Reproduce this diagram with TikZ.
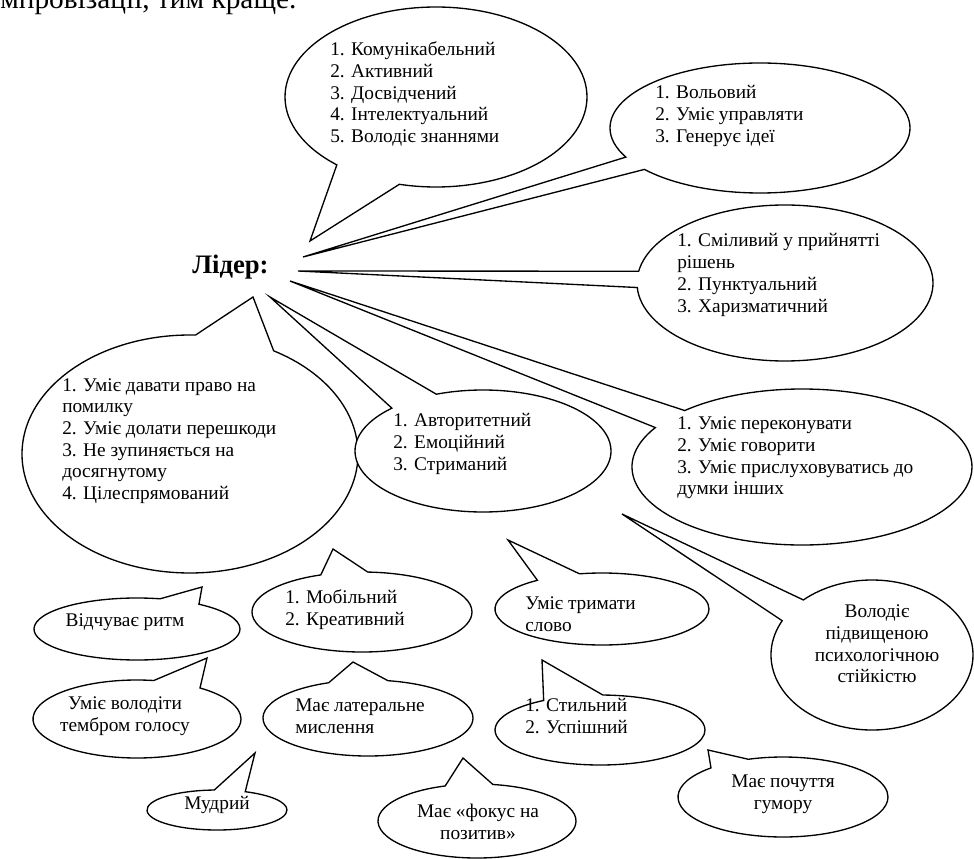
\documentclass[tikz,border=0pt]{standalone}
\usepackage{fontspec}
\setmainfont{Liberation Serif}
\usepackage{tikz}
\usetikzlibrary{shapes.callouts}

\tikzset{
	bubble/.style={ellipse callout, draw, fill=white, line width=1pt, inner sep=0pt},
	bsize/.style 2 args={minimum width=#1*1.5pt, minimum height=#2*1.5pt},
	txt/.style={inner sep=0pt, align=left, anchor=west, font=\fontsize{14.5}{16.3}\selectfont},
	ctxt/.style={inner sep=0pt, align=center, anchor=center, font=\fontsize{14.5}{16.3}\selectfont}
}

\begin{document}
\begin{tikzpicture}[x=0.75pt, y=-0.75pt]
	\useasboundingbox (0,0) rectangle (974,859);
	\clip (0,0) rectangle (974,859);
	\node[inner sep=0pt, anchor=base west, font=\fontsize{22}{26}\selectfont] (prev) at (0,9) {мпровізації, тим краще.};
	\node[inner sep=0pt, anchor=base west, font=\bfseries\fontsize{20}{24}\selectfont] (lider) at (192,274) {Лідер:};

	\node[bubble, bsize={151}{90}, callout pointer arc=27, callout absolute pointer={(310,241)}] (kom) at (436,97) {};
	\node[bubble, bsize={150}{65}, callout pointer arc=13, callout absolute pointer={(303,257)}] (vol) at (760,128) {};
	\node[bubble, bsize={148}{78}, callout pointer arc=12, callout absolute pointer={(298,271)}] (smil) at (785,283) {};
	\node[bubble, bsize={168}{119}, callout pointer arc=28, callout absolute pointer={(253,297)}] (pomyl) at (190,454) {};
	\node[bubble, bsize={128}{61}, callout pointer arc=24, callout absolute pointer={(270,297)}] (avt) at (483,451) {};
	\node[bubble, bsize={170}{78}, callout pointer arc=16, callout absolute pointer={(290,281)}] (per) at (802,467) {};
	\node[bubble, bsize={101}{75}, callout pointer arc=20, callout absolute pointer={(622,514)}] (psy) at (872,655) {};
	\node[bubble, bsize={107}{36}, callout pointer arc=25, callout absolute pointer={(508,540)}] (trym) at (602,609) {};
	\node[bubble, bsize={103}{31}, callout pointer arc=24, callout absolute pointer={(202,587)}] (rytm) at (137,629) {};
	\node[bubble, bsize={110}{40}, callout pointer arc=25, callout absolute pointer={(333,549)}] (mob) at (362,612) {};
	\node[bubble, bsize={104}{39}, callout pointer arc=28, callout absolute pointer={(207,658)}] (temb) at (137,719) {};
	\node[bubble, bsize={105}{38}, callout pointer arc=33, callout absolute pointer={(353,662)}] (lat) at (368,718) {};
	\node[bubble, bsize={105}{35}, callout pointer arc=34, callout absolute pointer={(542,660)}] (styl) at (600,730) {};
	\node[bubble, bsize={70}{20}, callout pointer arc=26, callout absolute pointer={(255,753)}] (mudr) at (217,810) {};
	\node[bubble, bsize={99}{37}, callout pointer arc=28, callout absolute pointer={(463,758)}] (fok) at (477,821) {};
	\node[bubble, bsize={105}{40}, callout pointer arc=24, callout absolute pointer={(708,750)}] (hum) at (783,797) {};

	\node[txt] (komt) at (330,94) {1. Комунікабельний\\2. Активний\\3. Досвідчений\\4. Інтелектуальний\\5. Володіє знаннями};
	\node[txt] (volt) at (655,116) {1. Вольовий\\2. Уміє управляти\\3. Генерує ідеї};
	\node[txt] (smilt) at (677,275) {1. Сміливий у прийнятті\\рішень\\2. Пунктуальний\\3. Харизматичний};
	\node[txt] (pomylt) at (62,441) {1. Уміє давати право на\\помилку\\2. Уміє долати перешкоди\\3. Не зупиняється на\\досягнутому\\4. Цілеспрямований};
	\node[txt] (avtt) at (393,444) {1. Авторитетний\\2. Емоційний\\3. Стриманий};
	\node[txt] (pert) at (677,458) {1. Уміє переконувати\\2. Уміє говорити\\3. Уміє прислуховуватись до\\думки інших};
	\node[ctxt] (psyt) at (877,644) {Володіє\\підвищеною\\психологічною\\стійкістю};
	\node[txt] (trymt) at (525,614) {Уміє тримати\\слово};
	\node[ctxt] (rytmt) at (125,622) {Відчуває ритм};
	\node[txt] (mobt) at (285,610) {1. Мобільний\\2. Креативний};
	\node[ctxt] (tembt) at (125,716) {Уміє володіти\\тембром голосу};
	\node[txt] (latt) at (295,716) {Має латеральне\\мислення};
	\node[txt] (stylt) at (525,716) {1. Стильний\\2. Успішний};
	\node[ctxt] (mudrt) at (217,805) {Мудрий};
	\node[ctxt] (fokt) at (478,822) {Має «фокус на\\позитив»};
	\node[ctxt] (humt) at (783,794) {Має почуття\\гумору};
\end{tikzpicture}
\end{document}
